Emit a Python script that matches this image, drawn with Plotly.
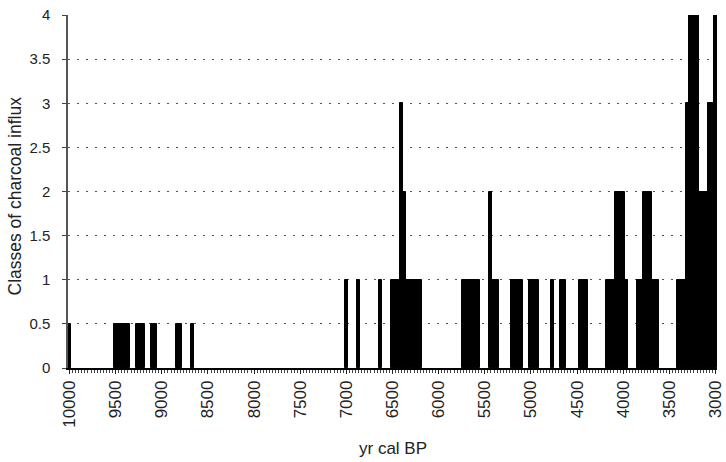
import plotly.graph_objects as go

# Sample ages (yr cal BP) with non-zero charcoal-influx class (all other samples = 0)
ages = [10000,
        9500, 9466.7, 9433.3, 9400, 9366.7,
        9266.7, 9233.3, 9200,
        9100, 9066.7,
        8833.3, 8800,
        8666.7,
        7000, 6866.7, 6633.3,
        6500, 6466.7, 6433.3, 6400, 6366.7, 6333.3, 6300, 6266.7, 6233.3, 6200,
        5733.3, 5700, 5666.7, 5633.3, 5600, 5566.7,
        5433.3, 5400, 5366.7,
        5200, 5166.7, 5133.3, 5100,
        5000, 4966.7, 4933.3,
        4766.7,
        4666.7, 4633.3,
        4466.7, 4433.3, 4400,
        4166.7, 4133.3, 4100, 4066.7, 4033.3, 4000, 3966.7,
        3833.3, 3800, 3766.7, 3733.3, 3700, 3666.7, 3633.3,
        3400, 3366.7, 3333.3, 3300, 3266.7, 3233.3, 3200, 3166.7, 3133.3, 3100,
        3066.7, 3033.3, 3000]
classes = [0.5,
           0.5, 0.5, 0.5, 0.5, 0.5,
           0.5, 0.5, 0.5,
           0.5, 0.5,
           0.5, 0.5,
           0.5,
           1, 1, 1,
           1, 1, 1, 3, 2, 1, 1, 1, 1, 1,
           1, 1, 1, 1, 1, 1,
           2, 1, 1,
           1, 1, 1, 1,
           1, 1, 1,
           1,
           1, 1,
           1, 1, 1,
           1, 1, 1, 2, 2, 2, 1,
           1, 1, 2, 2, 2, 1, 1,
           1, 1, 1, 3, 4, 4, 4, 2, 2, 2,
           3, 3, 4]

x_ticks = [10000, 9500, 9000, 8500, 8000, 7500, 7000, 6500, 6000,
           5500, 5000, 4500, 4000, 3500, 3000]
y_ticks = [0, 0.5, 1, 1.5, 2, 2.5, 3, 3.5, 4]
step = 100 / 3  # sampling interval between categories (yr)

x_title = "yr cal BP"
y_title = "Classes of charcoal influx"

font_family = "Liberation Sans, Arial, sans-serif"

fig = go.Figure(go.Bar(
    x=ages, y=classes, width=step,
    marker=dict(color="black", line=dict(width=1, color="black")),
))

fig.update_layout(
    width=726, height=462,
    margin=dict(l=68, r=9, t=15, b=94, autoexpand=False),
    paper_bgcolor="white", plot_bgcolor="white",
    bargap=0, showlegend=False,
    font=dict(family=font_family, color="#222", size=15),
    annotations=[
        dict(text=x_title, xref="paper", yref="paper", x=0.5, y=0,
             yshift=-80, xanchor="center", yanchor="middle", showarrow=False,
             font=dict(size=17, color="#222")),
        dict(text=y_title, xref="paper", yref="paper", x=0, y=0.5,
             xshift=-54, yshift=-5, xanchor="center", yanchor="middle", showarrow=False,
             textangle=-90, font=dict(size=17.5, color="#222")),
    ],
)

fig.update_xaxes(
    range=[10000 + step / 2, 3000 - step / 2],
    tickmode="array", tickvals=x_ticks, ticktext=[str(t) for t in x_ticks],
    tickangle=-90, tickfont=dict(size=17, color="#222"),
    ticks="outside", ticklen=4, tickcolor="#222",
    minor=dict(ticks="outside", ticklen=3, tickcolor="#444", dtick=step, tick0=3000),
    showline=True, linecolor="black", linewidth=1.5,
    showgrid=False, zeroline=False, automargin=False,
)

fig.update_yaxes(
    range=[0, 4],
    tickmode="array", tickvals=y_ticks, ticktext=[f"{t:g}" for t in y_ticks],
    tickfont=dict(size=15, color="#222"),
    ticks="outside", ticklen=4, tickcolor="#444",
    ticklabelstandoff=9,
    showline=True, linecolor="#555", linewidth=1.5,
    showgrid=True, gridcolor="#555", gridwidth=1, griddash="2px,7px",
    zeroline=False, automargin=False,
)

fig.write_html("out.html")
